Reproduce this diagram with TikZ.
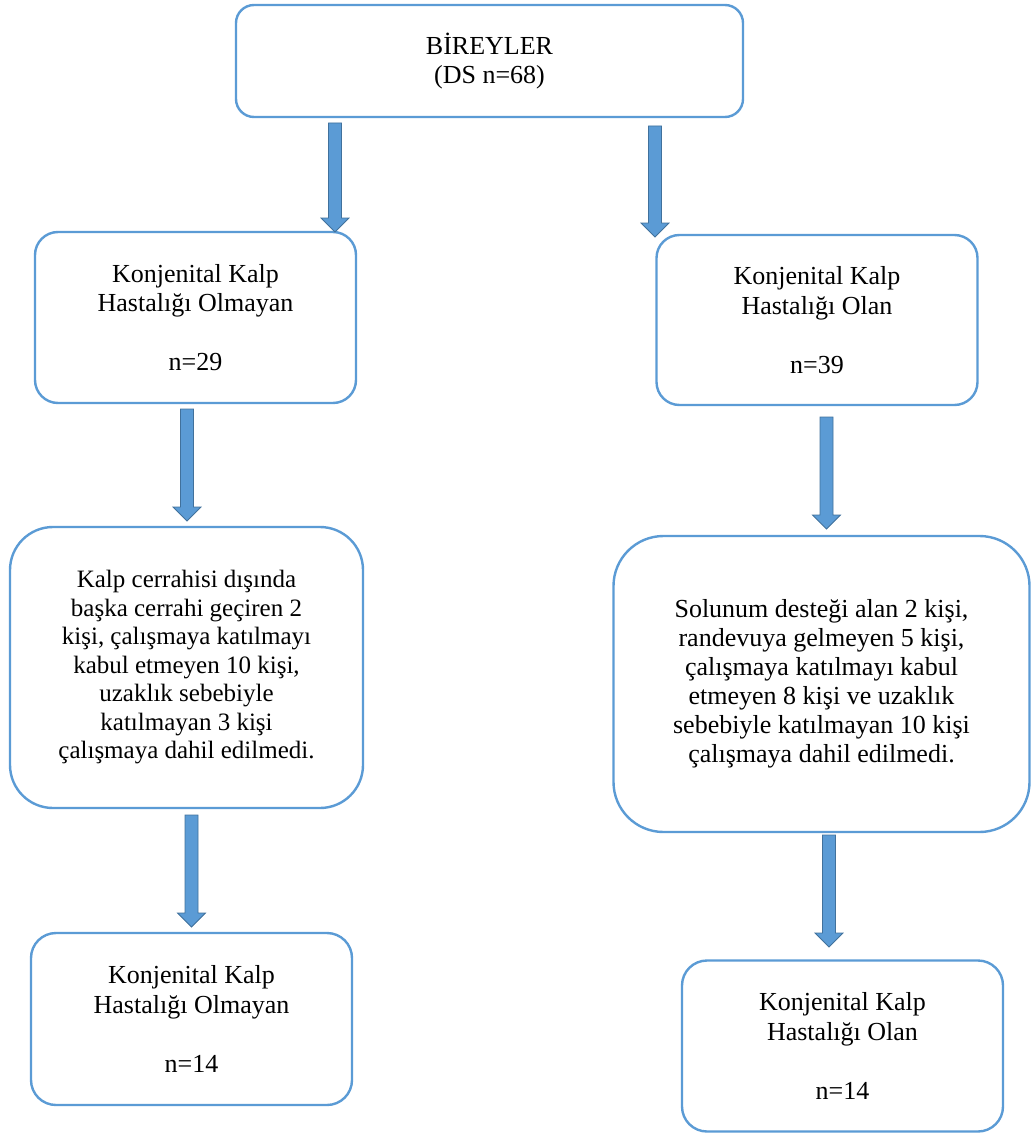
\documentclass[tikz,border=0pt]{standalone}
\usepackage{fontspec}
\setmainfont{Liberation Serif}
\usetikzlibrary{calc}
\definecolor{boxblue}{HTML}{5B9BD5}
\definecolor{arrowedge}{HTML}{41719C}
\tikzset{
  flowbox/.style={draw=boxblue, line width=2.4pt, fill=white, inner sep=0pt, align=center,
    font=\fontsize{26}{29.5}\selectfont},
  blockarrow/.style={fill=boxblue, draw=arrowedge, line width=0.8pt, line join=miter}
}
\newcommand{\fatarrow}[2]{%
  \draw[blockarrow] let \p1=(#1), \p2=(#2) in
    (\x1-6.5pt,\y1) -- (\x1+6.5pt,\y1) -- (\x1+6.5pt,\y2+14pt) -- (\x1+14pt,\y2+14pt)
    -- (\x1,\y2) -- (\x1-14pt,\y2+14pt) -- (\x1-6.5pt,\y2+14pt) -- cycle;}
\begin{document}
\begin{tikzpicture}[x=1pt,y=-1pt]
\useasboundingbox (0,0) rectangle (1031,1134);
% boxes
\node[flowbox, rounded corners=18pt, minimum width=507pt, minimum height=112pt] (top) at (489.5,61)
  {BİREYLER\\(DS n=68)};
\node[flowbox, rounded corners=23pt, minimum width=321pt, minimum height=171pt] (l1) at (195.5,317.5)
  {Konjenital Kalp\\Hastalığı Olmayan\\~\\n=29};
\node[flowbox, rounded corners=23pt, minimum width=321pt, minimum height=170pt] (r1) at (817,320)
  {Konjenital Kalp\\Hastalığı Olan\\~\\n=39};
\node[flowbox, rounded corners=43pt, minimum width=353pt, minimum height=281pt,
  font=\fontsize{25}{28.5}\selectfont] (l2) at (186.5,667.5)
  {Kalp cerrahisi dışında\\başka cerrahi geçiren 2\\kişi, çalışmaya katılmayı\\kabul etmeyen 10 kişi,\\uzaklık sebebiyle\\katılmayan 3 kişi\\çalışmaya dahil edilmedi.};
\node[flowbox, rounded corners=50pt, minimum width=416pt, minimum height=296pt,
  font=\fontsize{26}{29}\selectfont] (r2) at (821.5,684)
  {Solunum desteği alan 2 kişi,\\randevuya gelmeyen 5 kişi,\\çalışmaya katılmayı kabul\\etmeyen 8 kişi ve uzaklık\\sebebiyle katılmayan 10 kişi\\çalışmaya dahil edilmedi.};
\node[flowbox, rounded corners=25pt, minimum width=321pt, minimum height=172pt] (l3) at (191.5,1019)
  {Konjenital Kalp\\Hastalığı Olmayan\\~\\n=14};
\node[flowbox, rounded corners=25pt, minimum width=321pt, minimum height=171pt] (r3) at (842.5,1046)
  {Konjenital Kalp\\Hastalığı Olan\\~\\n=14};
% arrow end points
\coordinate (a1s) at (335,123);  \coordinate (a1e) at (335,232);
\coordinate (a2s) at (655,126);  \coordinate (a2e) at (655,237);
\coordinate (a3s) at (187,409);  \coordinate (a3e) at (187,521);
\coordinate (a4s) at (826.5,417);\coordinate (a4e) at (826.5,529);
\coordinate (a5s) at (191.5,815);\coordinate (a5e) at (191.5,927);
\coordinate (a6s) at (829,835);  \coordinate (a6e) at (829,947);
\fatarrow{a1s}{a1e}
\fatarrow{a2s}{a2e}
\fatarrow{a3s}{a3e}
\fatarrow{a4s}{a4e}
\fatarrow{a5s}{a5e}
\fatarrow{a6s}{a6e}
\end{tikzpicture}
\end{document}
